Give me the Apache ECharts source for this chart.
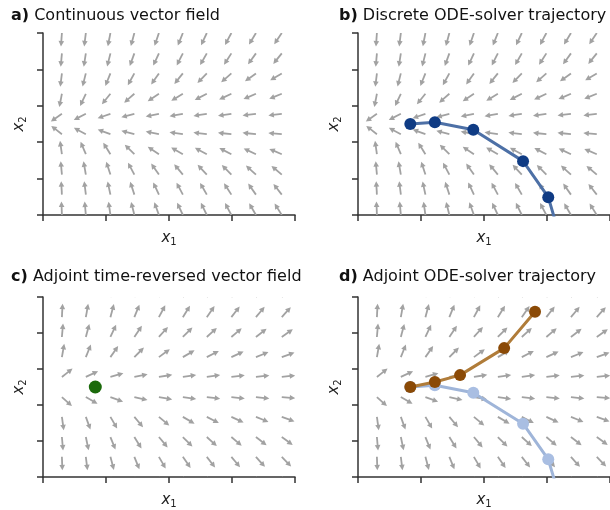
<!DOCTYPE html>
<html>
<head>
<meta charset="utf-8">
<script src="https://cdn.jsdelivr.net/npm/echarts@6/dist/echarts.min.js"></script>
<style>
  html, body { margin: 0; padding: 0; background: #fff; }
  #main { width: 610px; height: 510px; }
</style>
</head>
<body>
<div id="main"></div>
<script>
// quiver grid (data units)
var gridCols = [0.30, 0.68, 1.07, 1.45, 1.84, 2.22, 2.60, 2.99, 3.38, 3.79];
var gridRows = [5.00, 4.44, 3.89, 3.33, 2.78, 2.22, 1.67, 1.11, 0.56, 0.00];

// arrow directions, degrees (0 = right, 90 = up), rows top -> bottom
var fieldForward = [
  [266, 263, 259, 255, 251, 248, 245, 242, 239, 236],
  [265, 261, 256, 250, 245, 243, 240, 237, 234, 231],
  [263, 256, 248, 241, 235, 231, 226, 221, 216, 211],
  [259, 245, 231, 221, 214, 211, 207, 205, 203, 202],
  [215, 207, 199, 195, 192, 190, 189, 188, 187, 187],
  [142, 152, 160, 165, 168, 172, 173, 174, 174, 175],
  [98, 113, 122, 135, 146, 150, 152, 153, 155, 157],
  [95, 100, 108, 118, 125, 130, 133, 135, 138, 140],
  [93, 97, 102, 108, 115, 118, 120, 123, 125, 128],
  [92, 95, 98, 104, 110, 115, 116, 118, 120, 122]
];
var fieldAdjoint = [
  [88, 85, 80, 75, 70, 65, 62, 60, 58, 56],
  [87, 80, 75, 68, 62, 58, 55, 52, 50, 48],
  [85, 75, 65, 56, 48, 45, 42, 40, 38, 35],
  [80, 68, 55, 45, 36, 30, 27, 25, 22, 20],
  [38, 25, 16, 11, 9, 8, 8, 7, 6, 6],
  [-42, -30, -20, -13, -10, -8, -7, -6, -6, -5],
  [-82, -70, -60, -50, -40, -30, -27, -25, -22, -20],
  [-85, -78, -68, -58, -50, -45, -42, -40, -38, -36],
  [-88, -83, -75, -68, -60, -55, -52, -50, -48, -46],
  [-88, -85, -80, -75, -70, -65, -62, -60, -58, -56]
];

// solver steps
var forwardX = [0.83, 1.22, 1.83, 2.62, 3.02];
var forwardY = [2.50, 2.55, 2.34, 1.48, 0.49];
var forwardTail = [3.12, -0.10];
var adjointX = [0.83, 1.22, 1.62, 2.32, 2.81];
var adjointY = [2.50, 2.64, 2.83, 3.58, 4.59];

var titles = [
  ['a)', 'Continuous vector field'],
  ['b)', 'Discrete ODE-solver trajectory'],
  ['c)', 'Adjoint time-reversed vector field'],
  ['d)', 'Adjoint ODE-solver trajectory']
];

var arrowColor = '#a2a2a2';
var axisColor = '#333';
var font = 'DejaVu Sans';

function fieldData(field) {
  var out = [];
  for (var r = 0; r < gridRows.length; r++) {
    for (var c = 0; c < gridCols.length; c++) {
      out.push([gridCols[c], gridRows[r], field[r][c]]);
    }
  }
  return out;
}

function pairs(xs, ys) {
  return xs.map(function (x, i) { return [x, ys[i]]; });
}

function renderArrow(params, api) {
  var p = api.coord([api.value(0), api.value(1)]);
  var a = api.value(2) * Math.PI / 180;
  var ux = Math.cos(a), uy = -Math.sin(a);
  var len = 13.5, headLen = 5.5, headW = 2.8;
  var tip = [p[0] + ux * len, p[1] + uy * len];
  var base = [tip[0] - ux * headLen, tip[1] - uy * headLen];
  return {
    type: 'group',
    children: [
      {
        type: 'line',
        shape: { x1: p[0], y1: p[1], x2: base[0] + ux, y2: base[1] + uy },
        style: { stroke: arrowColor, lineWidth: 1.8 }
      },
      {
        type: 'polygon',
        shape: { points: [tip, [base[0] - uy * headW, base[1] + ux * headW], [base[0] + uy * headW, base[1] - ux * headW]] },
        style: { fill: arrowColor }
      }
    ]
  };
}

var grids = [
  { left: 43, top: 33, width: 252, height: 182 },
  { left: 358, top: 33, width: 252, height: 182 },
  { left: 43, top: 297, width: 252, height: 181 },
  { left: 358, top: 297, width: 252, height: 181 }
];

function axisName(n) { return '{i|x}{s|' + n + '}'; }
var nameRich = {
  i: { fontFamily: font, fontStyle: 'italic', fontSize: 15, color: '#222' },
  s: { fontFamily: font, fontSize: 10, color: '#222', padding: [7, 0, 0, 0] }
};

var xAxes = [], yAxes = [], titleList = [], series = [];
grids.forEach(function (g, i) {
  xAxes.push({
    gridIndex: i, type: 'value', min: 0, max: 4, interval: 1,
    name: axisName(1), nameLocation: 'middle', nameGap: 15,
    nameTextStyle: { rich: nameRich },
    axisLine: { lineStyle: { color: axisColor, width: 1.5 } },
    axisTick: { show: true, length: 6, lineStyle: { color: axisColor, width: 1.5 } },
    axisLabel: { show: false }, splitLine: { show: false }
  });
  yAxes.push({
    gridIndex: i, type: 'value', min: 0, max: 5, interval: 1,
    name: axisName(2), nameLocation: 'middle', nameGap: 15,
    nameTextStyle: { rich: nameRich },
    axisLine: { show: true, lineStyle: { color: axisColor, width: 1.5 } },
    axisTick: { show: true, length: 6, lineStyle: { color: axisColor, width: 1.5 } },
    axisLabel: { show: false }, splitLine: { show: false }
  });
  titleList.push({
    left: i % 2 === 0 ? 6 : 334,
    top: i < 2 ? 3 : 264,
    text: '{b|' + titles[i][0] + '} ' + titles[i][1],
    textStyle: {
      fontFamily: font, fontSize: 16, fontWeight: 'normal', color: '#111',
      rich: { b: { fontFamily: font, fontSize: 16, fontWeight: 'bold', color: '#111' } }
    }
  });
  series.push({
    type: 'custom', xAxisIndex: i, yAxisIndex: i, clip: true, silent: true,
    renderItem: renderArrow,
    data: fieldData(i < 2 ? fieldForward : fieldAdjoint),
    z: 1
  });
});

// b) forward trajectory
series.push({
  type: 'line', xAxisIndex: 1, yAxisIndex: 1, showSymbol: false, clip: true,
  data: pairs(forwardX, forwardY).concat([forwardTail]),
  lineStyle: { color: '#4d70a6', width: 3 }, z: 3
});
series.push({
  type: 'scatter', xAxisIndex: 1, yAxisIndex: 1, symbolSize: 12,
  data: pairs(forwardX, forwardY),
  itemStyle: { color: '#0f3b84', opacity: 1 }, z: 4
});

// c) start of adjoint
series.push({
  type: 'scatter', xAxisIndex: 2, yAxisIndex: 2, symbolSize: 13,
  data: [[adjointX[0], adjointY[0]]],
  itemStyle: { color: '#1b6a0b', opacity: 1 }, z: 4
});

// d) faded forward + adjoint trajectory
series.push({
  type: 'line', xAxisIndex: 3, yAxisIndex: 3, showSymbol: false, clip: true,
  data: pairs(forwardX, forwardY).concat([forwardTail]),
  lineStyle: { color: '#9fb5d9', width: 3 }, z: 2
});
series.push({
  type: 'scatter', xAxisIndex: 3, yAxisIndex: 3, symbolSize: 12,
  data: pairs(forwardX, forwardY),
  itemStyle: { color: '#a9bee2', opacity: 1 }, z: 2
});
series.push({
  type: 'line', xAxisIndex: 3, yAxisIndex: 3, showSymbol: false,
  data: pairs(adjointX, adjointY),
  lineStyle: { color: '#b07c39', width: 3 }, z: 3
});
series.push({
  type: 'scatter', xAxisIndex: 3, yAxisIndex: 3, symbolSize: 12,
  data: pairs(adjointX, adjointY),
  itemStyle: { color: '#8b4a06', opacity: 1 }, z: 4
});

var chart = echarts.init(document.getElementById('main'), null, { renderer: 'canvas' });
chart.setOption({
  animation: false,
  backgroundColor: '#fff',
  title: titleList,
  grid: grids,
  xAxis: xAxes,
  yAxis: yAxes,
  series: series
});
</script>
</body>
</html>
